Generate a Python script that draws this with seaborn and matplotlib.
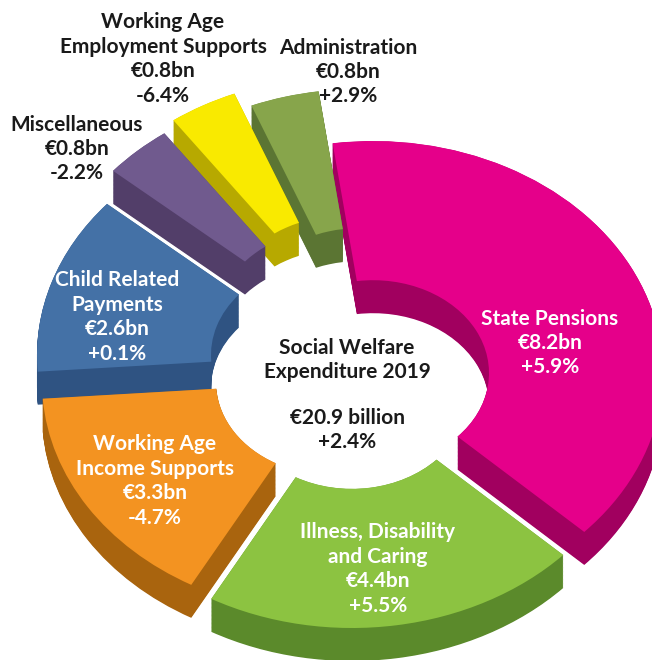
import matplotlib
matplotlib.use("Agg")
import numpy as np
import matplotlib.pyplot as plt
from matplotlib.patches import Wedge
import seaborn as sns

sns.set_theme(style="white")
plt.rcParams["font.family"] = ["Lato", "DejaVu Sans"]

# data
categories = ["State Pensions", "Illness, Disability\nand Caring",
              "Working Age\nIncome Supports", "Child Related\nPayments",
              "Miscellaneous", "Working Age\nEmployment Supports", "Administration"]
spend_bn = [8.2, 4.4, 3.3, 2.6, 0.8, 0.8, 0.8]
change_pct = ["+5.9%", "+5.5%", "-4.7%", "+0.1%", "-2.2%", "-6.4%", "+2.9%"]
total_bn = 20.9
total_change = "+2.4%"

# styling
top_colors = ["#E5008A", "#8CC341", "#F39321", "#4471A6", "#705A8E", "#F9EA00", "#87A54B"]
side_colors = ["#A1005F", "#5B8A2B", "#A9640E", "#2F5382", "#523E69", "#B7A900", "#5B7533"]
# how far each slice is pulled out from the middle (px, y down)
shift = [(23, -7), (2, 16), (-18, 2), (-23, -25), (-17, -58), (-8, -71), (9, -59)]
label_pos = [(550, 343), (378, 569), (155, 481), (117, 317), (77, 149), (163, 59), (348, 72)]
label_col = ["white"] * 4 + ["#1a1a1a"] * 3

W, H = 652, 660
S = 0.8          # vertical squash for the tilted look
R = 290          # outer radius (px)
HOLE = 0.4
DEPTH = 33
START = 98
BX, BY = 350, 380


def txt(ax, px, py, s, **kw):
    ax.text(px, (H - py) / S, s, ha="center", va="center", fontsize=15,
            fontweight="bold", linespacing=1.28, **kw)


fig = plt.figure(figsize=(W / 100, H / 100), dpi=100)
ax = fig.add_axes([0, 0, 1, 1])

cum = np.concatenate([[0], np.cumsum(spend_bn)]) / sum(spend_bn) * 360
slices = []
for i in range(len(spend_bn)):
    t1, t2 = START - cum[i + 1], START - cum[i]
    cx = BX + shift[i][0]
    cy = (H - BY - shift[i][1]) / S
    slices.append((t1, t2, cx, cy))

# extruded sides: stack darker copies downwards
for k in np.arange(DEPTH, 0, -0.8):
    for (t1, t2, cx, cy), c in zip(slices, side_colors):
        ax.add_patch(Wedge((cx, cy - k / S), R, t1, t2, width=R * (1 - HOLE),
                           facecolor=c, linewidth=0))
for (t1, t2, cx, cy), c in zip(slices, top_colors):
    ax.add_patch(Wedge((cx, cy), R, t1, t2, width=R * (1 - HOLE),
                       facecolor=c, linewidth=0))

for name, val, chg, (px, py), c in zip(categories, spend_bn, change_pct, label_pos, label_col):
    txt(ax, px, py, "%s\n€%.1fbn\n%s" % (name, val, chg), color=c)

txt(ax, 347, 360, "Social Welfare\nExpenditure 2019", color="#1a1a1a")
txt(ax, 347, 430, "€%.1f billion\n%s" % (total_bn, total_change), color="#1a1a1a")

ax.set_xlim(0, W)
ax.set_ylim(0, H / S)
ax.axis("off")
fig.savefig("out.png", dpi=100, facecolor="white")
